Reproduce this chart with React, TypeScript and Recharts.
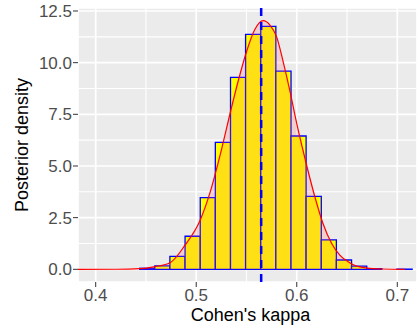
import {
  Area,
  CartesianGrid,
  ComposedChart,
  ReferenceArea,
  ReferenceLine,
  XAxis,
  YAxis,
} from "recharts";

// histogram bins (edges) and their density heights
const binEdges = [
  0.3835, 0.3986, 0.4136, 0.4287, 0.4437, 0.4588, 0.4738, 0.4889, 0.504,
  0.519, 0.5341, 0.5491, 0.5642, 0.5792, 0.5943, 0.6093, 0.6244, 0.6394,
  0.6545, 0.6696, 0.6846, 0.6997, 0.7148,
];
const binDensity = [
  0, 0, 0, 0, 0.05, 0.17, 0.63, 1.6, 3.47, 6.14, 9.29, 11.37, 11.76, 9.59,
  6.45, 3.53, 1.42, 0.45, 0.15, 0.03, 0, 0.01,
];

// smoothed posterior density
const densityX = [
  0.3824, 0.42, 0.444, 0.459, 0.474, 0.489, 0.504, 0.514, 0.525, 0.5345,
  0.542, 0.55, 0.558, 0.5666, 0.5733, 0.58, 0.5865, 0.593, 0.6, 0.605, 0.61,
  0.618, 0.626, 0.6346, 0.6428, 0.651, 0.6594, 0.669, 0.685, 0.7075,
];
const densityY = [
  0, 0.004, 0.03, 0.13, 0.32, 1.18, 2.39, 3.76, 5.77, 7.71, 9.16, 10.53,
  11.58, 12.03, 11.82, 11.25, 10.04, 8.67, 7.05, 6.0, 5.0, 3.51, 2.23, 1.26,
  0.69, 0.37, 0.16, 0.07, 0.015, 0,
];

const kappaMean = 0.5646;

const xTicks = [0.4, 0.5, 0.6, 0.7];
const xMinor = [0.45, 0.55, 0.65];
const yTicks = [0, 2.5, 5, 7.5, 10, 12.5];
const yMinor = [1.25, 3.75, 6.25, 8.75, 11.25];

const densityData = densityX.map((x, i) => ({ x, y: densityY[i] }));

const tickStyle = { fill: "#4D4D4D", fontSize: 17 };

function XTitle(props: any) {
  const { x, y, width } = props.viewBox;
  return (
    <text x={x + width / 2 + 3} y={y + 38.7} textAnchor="middle" fontSize={18} fill="#000">
      Cohen's kappa
    </text>
  );
}

function YTitle(props: any) {
  const { x, y, height } = props.viewBox;
  const cx = x + 28;
  const cy = y + height / 2;
  return (
    <text
      x={cx}
      y={cy}
      textAnchor="middle"
      fontSize={18}
      fill="#000"
      transform={`rotate(-90, ${cx}, ${cy})`}
    >
      Posterior density
    </text>
  );
}

export default function App() {
  return (
    <div
      style={{
        position: "absolute",
        left: 0,
        top: 0,
        fontFamily: "'Liberation Sans', Arial, sans-serif",
        background: "#fff",
      }}
    >
      <ComposedChart
        width={417}
        height={331}
        margin={{ top: 8, right: 0, bottom: 0, left: 0 }}
      >
        <CartesianGrid
          fill="#EBEBEB"
          stroke="#FFFFFF"
          strokeWidth={1.1}
          horizontalValues={yMinor}
          verticalValues={xMinor}
        />
        <CartesianGrid fill="none" stroke="#FFFFFF" strokeWidth={1.7} />
        <XAxis
          type="number"
          dataKey="x"
          domain={[0.3824, 0.7196]}
          allowDataOverflow
          ticks={xTicks}
          interval={0}
          tickFormatter={(v: number) => v.toFixed(1)}
          axisLine={false}
          tickLine={{ stroke: "#333333" }}
          tickSize={5}
          tickMargin={2}
          tick={tickStyle}
          height={49}
          label={XTitle}
        />
        <YAxis
          type="number"
          domain={[-0.614, 12.645]}
          allowDataOverflow
          ticks={yTicks}
          interval={0}
          tickFormatter={(v: number) => v.toFixed(1)}
          axisLine={false}
          tickLine={{ stroke: "#333333" }}
          tickSize={5}
          tickMargin={1}
          tick={tickStyle}
          width={78}
          label={YTitle}
        />
        {binDensity.map((h, i) => (
          <ReferenceArea
            key={i}
            x1={binEdges[i]}
            x2={binEdges[i + 1]}
            y1={0}
            y2={h}
            fill="#FFFF00"
            fillOpacity={1}
            stroke="#0000FF"
            strokeWidth={1.3}
          />
        ))}
        <Area
          data={densityData}
          dataKey="y"
          type="monotone"
          stroke="#FF0000"
          strokeWidth={1.2}
          fill="#FF6666"
          fillOpacity={0.2}
          isAnimationActive={false}
          zIndex={350}
        />
        <ReferenceLine
          x={kappaMean}
          stroke="#0000FF"
          strokeWidth={2.5}
          strokeDasharray="8 6"
          zIndex={450}
        />
      </ComposedChart>
    </div>
  );
}
